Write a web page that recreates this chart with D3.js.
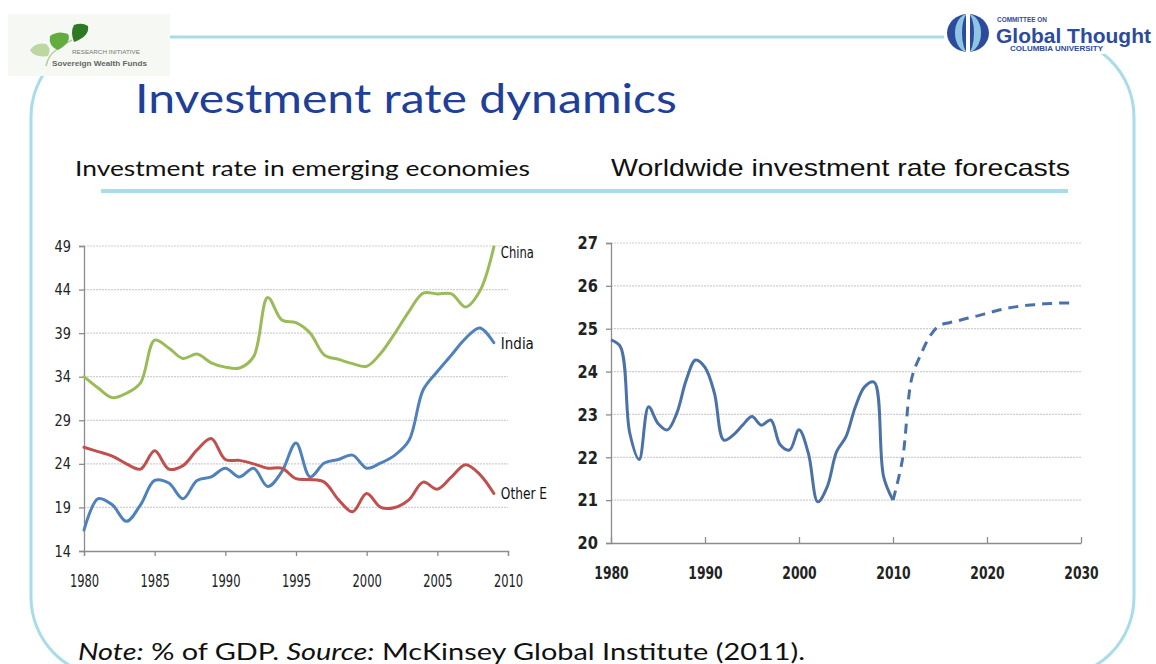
<!DOCTYPE html>
<html>
<head>
<meta charset="utf-8">
<script src="https://cdn.jsdelivr.net/npm/d3@7"></script>
<style>
  html, body { margin: 0; padding: 0; background: #ffffff; }
  svg { display: block; }
  .cond { font-family: "Liberation Sans Narrow", "DejaVu Sans Condensed", "Roboto Condensed", sans-serif; }
</style>
</head>
<body>
<svg id="slide" width="1156" height="664"></svg>
<script>
// ---- data -------------------------------------------------------------
const emYears = [1980,1981,1982,1983,1984,1985,1986,1987,1988,1989,
                 1990,1991,1992,1993,1994,1995,1996,1997,1998,1999,
                 2000,2001,2002,2003,2004,2005,2006,2007,2008,2009];
const chinaRate = [34.0,32.7,31.6,32.1,33.3,38.2,37.3,36.1,36.6,35.6,
                   35.1,35.0,36.3,43.1,40.5,40.2,39.0,36.5,36.0,35.5,
                   35.2,36.7,39.0,41.5,43.6,43.5,43.5,42.0,43.8,48.9];
const indiaRate = [16.4,20.0,19.3,17.4,19.3,22.1,21.8,20.0,22.1,22.5,
                   23.5,22.5,23.5,21.4,23.1,26.4,22.5,24.1,24.5,25.0,
                   23.5,24.1,25.0,26.7,32.5,34.6,36.5,38.4,39.6,37.9];
const otherEmRate = [25.9,25.4,24.9,24.0,23.4,25.5,23.4,23.8,25.6,26.9,
                     24.5,24.4,24.0,23.5,23.5,22.3,22.2,21.9,19.9,18.5,
                     20.6,19.0,19.0,19.9,21.9,21.1,22.5,23.9,22.8,20.6];
const emSeriesNames = ["China", "India", "Other E"];
const emYTicks = [14,19,24,29,34,39,44,49];
const emXTicks = [1980,1985,1990,1995,2000,2005,2010];

const worldYears = [1980,1981,1982,1983,1984,1985,1986,1987,1988,1989,
                    1990,1991,1992,1993,1994,1995,1996,1997,1998,1999,
                    2000,2001,2002,2003,2004,2005,2006,2007,2008,2009,2010];
const worldRate = [24.74,24.58,22.56,21.95,23.18,22.79,22.64,23.03,23.80,24.27,
                   24.10,23.50,22.40,22.52,22.75,22.95,22.75,22.87,22.29,22.17,
                   22.64,22.09,20.96,21.31,22.13,22.48,23.18,23.65,23.75,21.55,21.00];
const forecastYears = [2010,2011,2012,2013,2014,2015,2016,2017,2018,2019,
                       2020,2021,2022,2023,2024,2025,2026,2027,2028,2029];
const forecastRate = [21.00,21.94,23.85,24.42,24.85,25.08,25.14,25.19,25.25,25.30,
                      25.36,25.42,25.47,25.51,25.54,25.56,25.58,25.59,25.60,25.60];
const worldYTicks = [20,21,22,23,24,25,26,27];
const worldXTicks = [1980,1990,2000,2010,2020,2030];

// ---- slide frame --------------------------------------------------------
const svg = d3.select("#slide");
const frameBlue = "#a7dce8";

svg.append("rect")
  .attr("x", 31).attr("y", 37).attr("width", 1103).attr("height", 640)
  .attr("rx", 80).attr("ry", 80)
  .attr("fill", "none").attr("stroke", frameBlue).attr("stroke-width", 3);

// left logo block: ginkgo leaves over the initiative name
const lg = svg.append("g");
lg.append("rect").attr("x", 8).attr("y", 14).attr("width", 162).attr("height", 62).attr("fill", "#f5f8f3");
lg.append("path").attr("d", "M46,66 Q48,56 56,50 Q64,44 72,40").attr("stroke", "#b5cc9f").attr("stroke-width", 1.5).attr("fill", "none");
// light leaf
lg.append("path").attr("d", "M48,56 Q34,58 30,50 Q36,42 46,44 Q52,48 48,56 Z").attr("fill", "#bcd7a0");
// middle leaf
lg.append("path").attr("d", "M58,50 Q48,46 50,36 Q58,30 68,34 Q72,42 58,50 Z").attr("fill", "#63ac40");
// dark leaf
lg.append("path").attr("d", "M74,42 Q70,32 74,25 Q82,22 88,26 Q90,36 74,42 Z").attr("fill", "#2e7a24");
lg.append("text").attr("x", 72).attr("y", 54).attr("font-family", "Liberation Sans, sans-serif")
  .attr("font-size", 4.5).attr("fill", "#777")
  .attr("textLength", 68).attr("lengthAdjust", "spacingAndGlyphs").text("RESEARCH INITIATIVE");
lg.append("text").attr("x", 52).attr("y", 66).attr("font-family", "Liberation Sans, sans-serif")
  .attr("font-size", 7.2).attr("font-weight", "bold").attr("fill", "#666")
  .attr("textLength", 95).attr("lengthAdjust", "spacingAndGlyphs").text("Sovereign Wealth Funds");

// right logo block
const rg = svg.append("g");
rg.append("rect").attr("x", 944).attr("y", 8).attr("width", 212).attr("height", 46).attr("fill", "#ffffff");
rg.append("ellipse").attr("cx", 968).attr("cy", 33).attr("rx", 21).attr("ry", 19).attr("fill", "#2d4b9c");
rg.append("ellipse").attr("cx", 968).attr("cy", 33).attr("rx", 13).attr("ry", 19).attr("fill", "#8fc5e2");
rg.append("ellipse").attr("cx", 968).attr("cy", 33).attr("rx", 6).attr("ry", 19).attr("fill", "#2d4b9c");
rg.append("rect").attr("x", 966).attr("y", 14).attr("width", 4).attr("height", 38).attr("fill", "#ffffff");
rg.append("text").attr("x", 997).attr("y", 22).attr("font-family", "Liberation Sans, sans-serif")
  .attr("font-size", 6.8).attr("font-weight", "bold").attr("fill", "#2d4b9c")
  .attr("textLength", 50).attr("lengthAdjust", "spacingAndGlyphs").text("COMMITTEE ON");
rg.append("text").attr("x", 996).attr("y", 43).attr("font-family", "Liberation Sans, Arial, sans-serif")
  .attr("font-size", 21).attr("font-weight", "bold").attr("fill", "#2d4b9c")
  .attr("textLength", 155).attr("lengthAdjust", "spacingAndGlyphs").text("Global Thought");
rg.append("text").attr("x", 1010).attr("y", 51).attr("font-family", "Liberation Sans, sans-serif")
  .attr("font-size", 6.3).attr("font-weight", "bold").attr("fill", "#2d4b9c")
  .attr("textLength", 93).attr("lengthAdjust", "spacingAndGlyphs").text("COLUMBIA UNIVERSITY");

// headings
svg.append("text").attr("x", 135).attr("y", 113)
  .attr("font-family", "Lato, 'Open Sans', sans-serif").attr("font-size", 41).attr("fill", "#213f98")
  .attr("textLength", 542).attr("lengthAdjust", "spacingAndGlyphs")
  .text("Investment rate dynamics");
svg.append("text").attr("x", 75).attr("y", 176)
  .attr("font-family", "Lato, 'Open Sans', sans-serif").attr("font-size", 22).attr("fill", "#111")
  .attr("textLength", 455).attr("lengthAdjust", "spacingAndGlyphs")
  .text("Investment rate in emerging economies");
svg.append("text").attr("x", 611).attr("y", 176)
  .attr("font-family", "'Liberation Sans', Arial, sans-serif").attr("font-size", 24).attr("fill", "#111")
  .attr("textLength", 459).attr("lengthAdjust", "spacingAndGlyphs")
  .text("Worldwide investment rate forecasts");
svg.append("rect").attr("x", 101).attr("y", 189).attr("width", 967).attr("height", 4).attr("fill", frameBlue);

// footnote
const note = svg.append("text").attr("x", 78).attr("y", 660)
  .attr("font-family", "Lato, 'Open Sans', sans-serif").attr("font-size", 23).attr("fill", "#111")
  .attr("textLength", 727).attr("lengthAdjust", "spacingAndGlyphs");
note.append("tspan").attr("font-style", "italic").text("Note:");
note.append("tspan").text(" % of GDP. ");
note.append("tspan").attr("font-style", "italic").text("Source:");
note.append("tspan").text(" McKinsey Global Institute (2011).");

// ---- shared axis styling ------------------------------------------------
// tick labels are squeezed into a narrow width to give a condensed face
function styleAxis(g, fontSize, weight, charWidth) {
  g.select(".domain").attr("stroke", "#8c8c8c").attr("stroke-width", 1.3);
  g.selectAll(".tick line").attr("stroke", "#8c8c8c").attr("stroke-width", 1.3);
  g.selectAll(".tick text").attr("class", "cond").attr("font-size", fontSize)
    .attr("font-weight", weight).attr("fill", "#222")
    .attr("textLength", function () { return this.textContent.length * charWidth; })
    .attr("lengthAdjust", "spacingAndGlyphs");
}
function gridlines(g, yScale, ticks, x0, x1) {
  g.selectAll("line.grid").data(ticks.slice(1)).join("line")
    .attr("x1", x0).attr("x2", x1)
    .attr("y1", d => yScale(d)).attr("y2", d => yScale(d))
    .attr("stroke", "#cfcfcf").attr("stroke-width", 1.2).attr("stroke-dasharray", "2,1");
}

// ---- left chart: emerging economies ----------------------------------------
const xL = d3.scaleLinear().domain([1980, 2010]).range([84, 508]);
const yL = d3.scaleLinear().domain([14, 49]).range([551, 246]);
const left = svg.append("g");
gridlines(left.append("g"), yL, emYTicks, 84, 508);

left.append("g").attr("transform", "translate(84,0)")
  .call(d3.axisLeft(yL).tickValues(emYTicks).tickSize(5).tickPadding(8).tickFormat(d3.format("d")))
  .call(g => styleAxis(g, 16, "normal", 8.2));
left.append("g").attr("transform", "translate(0,551)")
  .call(d3.axisBottom(xL).tickValues(emXTicks).tickSize(5).tickPadding(19).tickFormat(d3.format("d")))
  .call(g => styleAxis(g, 17, "normal", 7.3));

const emSeries = [
  { name: emSeriesNames[0], values: chinaRate, color: "#9bbb59", labelDy: 11 },
  { name: emSeriesNames[1], values: indiaRate, color: "#4f81bd", labelDy: 6 },
  { name: emSeriesNames[2], values: otherEmRate, color: "#c0504d", labelDy: 6 }
];
const lineL = d3.line().x(d => xL(d[0])).y(d => yL(d[1])).curve(d3.curveCatmullRom.alpha(0.5));
emSeries.forEach(s => {
  const pts = emYears.map((yr, i) => [yr, s.values[i]]);
  left.append("path").attr("d", lineL(pts)).attr("fill", "none")
    .attr("stroke", s.color).attr("stroke-width", 3).attr("stroke-linejoin", "round").attr("stroke-linecap", "round");
  const last = pts[pts.length - 1];
  left.append("text").attr("class", "cond")
    .attr("x", xL(last[0]) + 7).attr("y", yL(last[1]) + s.labelDy)
    .attr("font-size", 16).attr("fill", "#111")
    .attr("textLength", s.name.length * 6.6).attr("lengthAdjust", "spacingAndGlyphs")
    .text(s.name);
});

// ---- right chart: worldwide forecasts ---------------------------------------
const xR = d3.scaleLinear().domain([1980, 2030]).range([611, 1081]);
const yR = d3.scaleLinear().domain([20, 27]).range([543, 243]);
const right = svg.append("g");
gridlines(right.append("g"), yR, worldYTicks, 611, 1081);

right.append("g").attr("transform", "translate(611,0)")
  .call(d3.axisLeft(yR).tickValues(worldYTicks).tickSize(5).tickPadding(8).tickFormat(d3.format("d")))
  .call(g => styleAxis(g, 18, "bold", 10.2));
right.append("g").attr("transform", "translate(0,543)")
  .call(d3.axisBottom(xR).tickValues(worldXTicks).tickSizeInner(-6).tickSizeOuter(0).tickPadding(23).tickFormat(d3.format("d")))
  .call(g => styleAxis(g, 18, "bold", 8.6));

const lineR = d3.line().x(d => xR(d[0])).y(d => yR(d[1])).curve(d3.curveCatmullRom.alpha(0.5));
right.append("path")
  .attr("d", lineR(worldYears.map((yr, i) => [yr, worldRate[i]])))
  .attr("fill", "none").attr("stroke", "#4a72a8").attr("stroke-width", 3)
  .attr("stroke-linejoin", "round");
right.append("path")
  .attr("d", lineR(forecastYears.map((yr, i) => [yr, forecastRate[i]])))
  .attr("fill", "none").attr("stroke", "#4a72a8").attr("stroke-width", 3)
  .attr("stroke-dasharray", "10,7");
</script>
</body>
</html>
